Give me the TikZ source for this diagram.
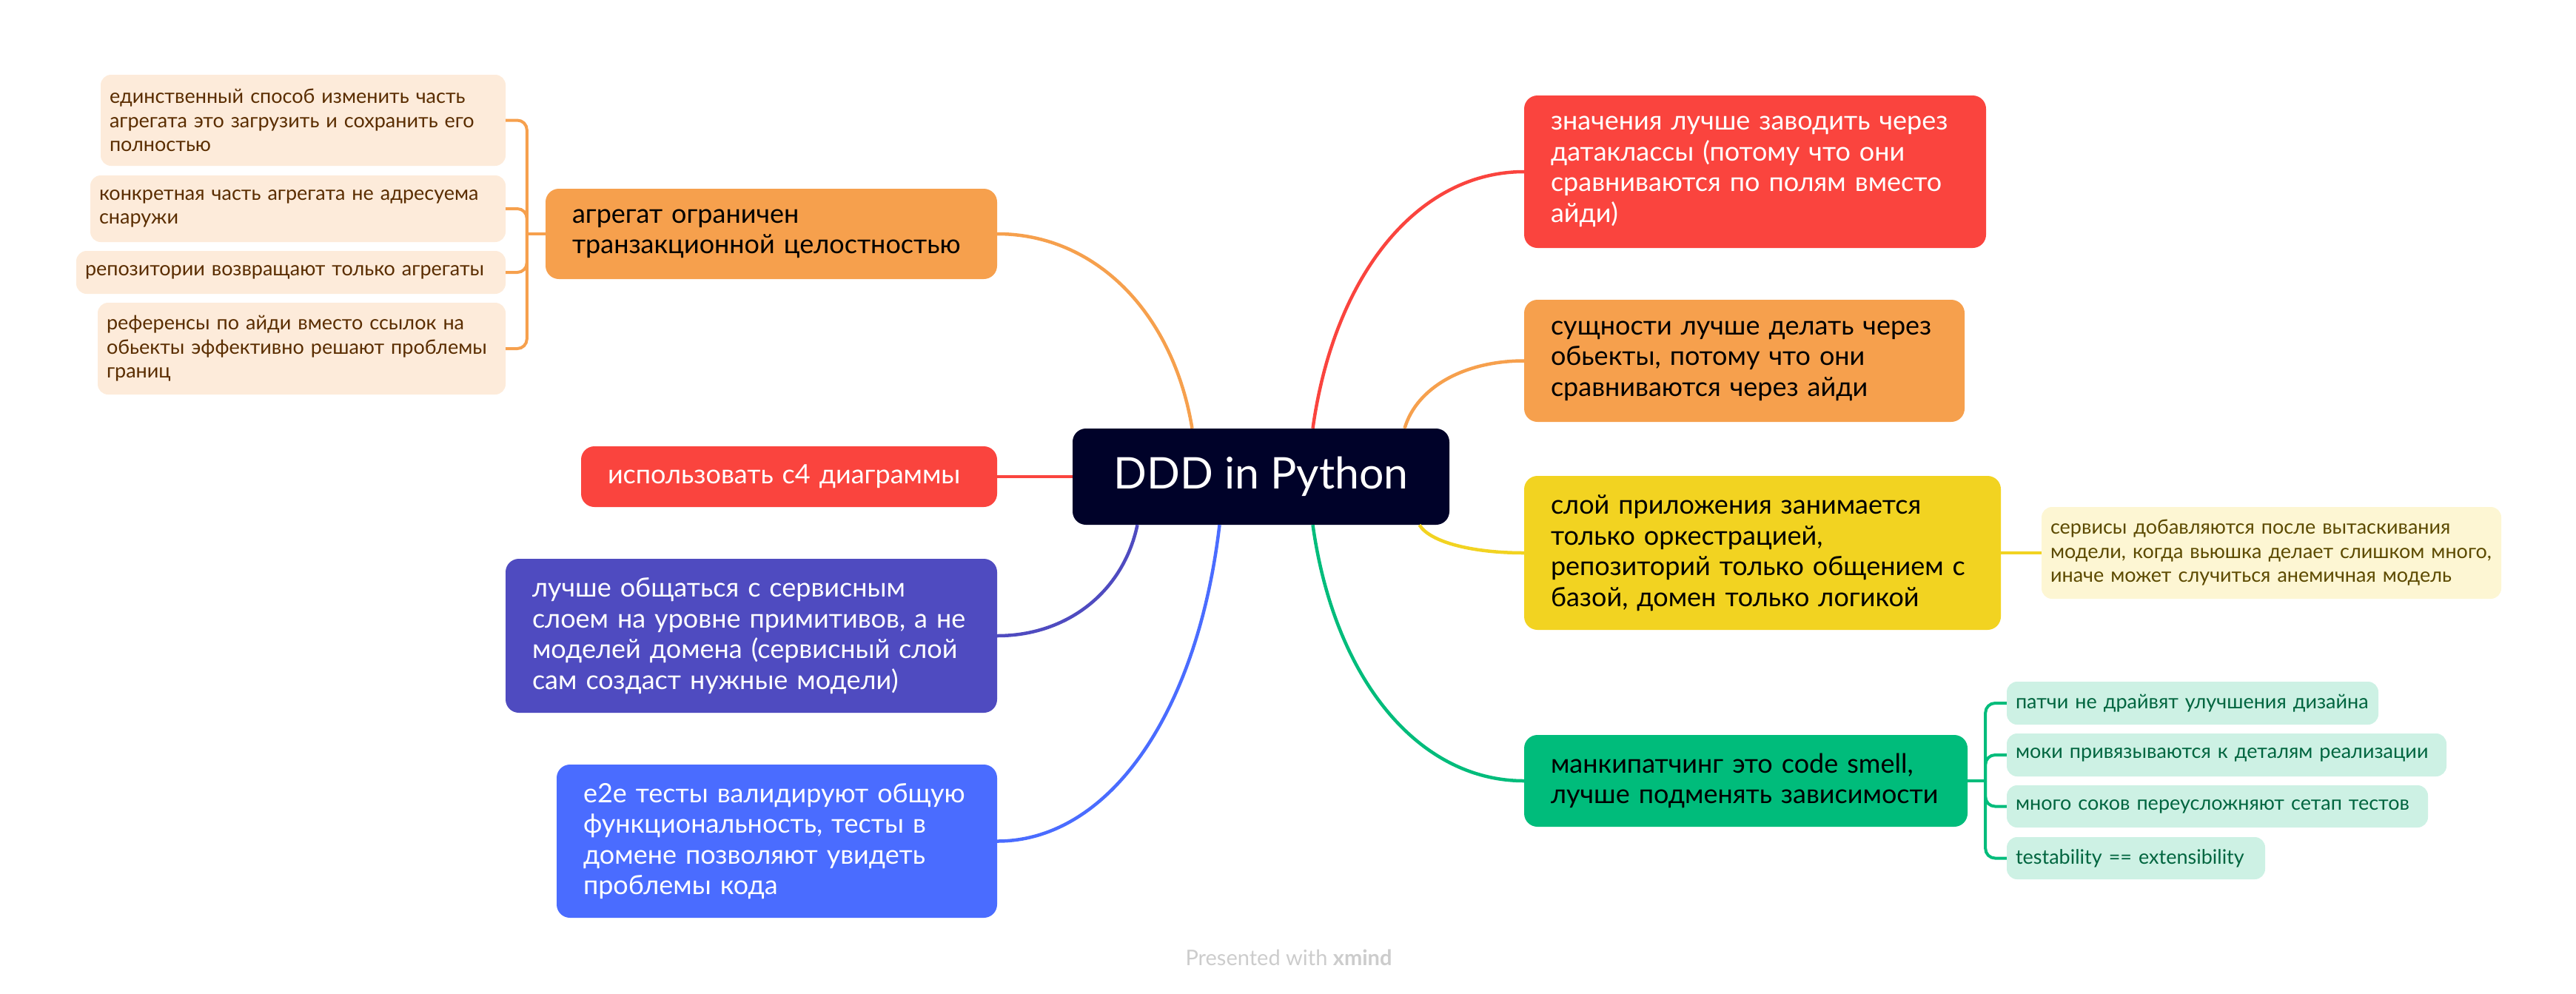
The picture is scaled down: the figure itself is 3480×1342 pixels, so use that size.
\documentclass[tikz,border=0pt]{standalone}
\usepackage{fontspec}
\setmainfont{Lato}
\usepackage{xcolor}
\usetikzlibrary{positioning}

\definecolor{rootfill}{HTML}{000229}
\definecolor{topicred}{HTML}{FA443E}
\definecolor{topicorange}{HTML}{F6A04D}
\definecolor{topicyellow}{HTML}{F2D321}
\definecolor{topicgreen}{HTML}{00BC7B}
\definecolor{topicpurple}{HTML}{4F4BC0}
\definecolor{topicblue}{HTML}{4A6CFF}
\definecolor{noteorange}{HTML}{FDEBDA}
\definecolor{noteorangetext}{HTML}{5A2D00}
\definecolor{noteyellow}{HTML}{FDF6D3}
\definecolor{noteyellowtext}{HTML}{5C4A00}
\definecolor{notegreen}{HTML}{CDF1E4}
\definecolor{notegreentext}{HTML}{00653F}
\definecolor{creditgray}{HTML}{CCCCCC}

\begin{document}
\begin{tikzpicture}[x=1pt, y=-1pt,
    topic/.style={rounded corners=18pt, align=left, inner xsep=36pt, inner ysep=0pt, font=\fontsize{36}{41.5}\selectfont},
    note/.style={rounded corners=14pt, align=left, inner xsep=12pt, inner ysep=0pt, font=\fontsize{27}{32.5}\selectfont},
    link/.style={line width=4.5pt},
    branch/.style={line width=4pt, rounded corners=13pt}]
    \useasboundingbox (0,0) rectangle (3480,1342);

    % central topic
    \node[fill=rootfill, text=white, rounded corners=18pt, minimum width=509pt, minimum height=130pt, font=\fontsize{59}{70}\selectfont] (root) at (1703.5,644) {DDD in Python};

    % left topics
    \node[topic, fill=topicorange, text width=538pt, minimum height=122pt] (agg) at (1042,316) {агрегат ограничен\\транзакционной целостностью};
    \node[topic, fill=topicred, text=white, text width=490pt, minimum height=82pt] (cfour) at (1066,644) {использовать c4 диаграммы};
    \node[topic, fill=topicpurple, text=white, text width=592pt, minimum height=208pt] (prim) at (1015,859) {лучше общаться с сервисным\\слоем на уровне примитивов, а не\\моделей домена (сервисный слой\\сам создаст нужные модели)};
    \node[topic, fill=topicblue, text=white, text width=523pt, minimum height=207pt] (etoe) at (1049.5,1136.5) {e2e тесты валидируют общую\\функциональность, тесты в\\домене позволяют увидеть\\проблемы кода};

    % right topics
    \node[topic, fill=topicred, text=white, text width=552pt, minimum height=206pt] (vals) at (2371,232) {значения лучше заводить через\\датаклассы (потому что они\\сравниваются по полям вместо\\айди)};
    \node[topic, fill=topicorange, text width=523pt, minimum height=165pt] (ents) at (2356.5,487.5) {сущности лучше делать через\\обьекты, потому что они\\сравниваются через айди};
    \node[topic, fill=topicyellow, text width=572pt, minimum height=208pt] (layers) at (2381,747) {слой приложения занимается\\только оркестрацией,\\репозиторий только общением с\\базой, домен только логикой};
    \node[topic, fill=topicgreen, text width=527pt, minimum height=124pt] (mock) at (2358.5,1055) {манкипатчинг это code smell,\\лучше подменять зависимости};

    % subtopics
    \node[note, fill=noteorange, text=noteorangetext, text width=523pt, minimum height=123pt] (aggone) at (409.5,162.5) {единственный способ изменить часть\\агрегата это загрузить и сохранить его\\полностью};
    \node[note, fill=noteorange, text=noteorangetext, text width=537pt, minimum height=90pt] (aggtwo) at (402.5,282) {конкретная часть агрегата не адресуема\\снаружи};
    \node[note, fill=noteorange, text=noteorangetext, text width=556pt, minimum height=58pt] (aggthree) at (393,368) {репозитории возвращают только агрегаты};
    \node[note, fill=noteorange, text=noteorangetext, text width=527pt, minimum height=124pt] (aggfour) at (407.5,471) {референсы по айди вместо ссылок на\\обьекты эффективно решают проблемы\\границ};
    \node[note, fill=noteyellow, text=noteyellowtext, text width=597pt, minimum height=124pt] (layerone) at (3068.5,747) {сервисы добавляются после вытаскивания\\модели, когда вьюшка делает слишком много,\\иначе может случиться анемичная модель};
    \node[note, fill=notegreen, text=notegreentext, text width=478pt, minimum height=58pt] (mockone) at (2962,950) {патчи не драйвят улучшения дизайна};
    \node[note, fill=notegreen, text=notegreentext, text width=570pt, minimum height=58pt] (mocktwo) at (3008,1020) {моки привязываются к деталям реализации};
    \node[note, fill=notegreen, text=notegreentext, text width=545pt, minimum height=57pt] (mockthree) at (2995.5,1089.5) {много соков переусложняют сетап тестов};
    \node[note, fill=notegreen, text=notegreentext, text width=325pt, minimum height=57pt] (mockfour) at (2885.5,1159.5) {testability == extensibility};

    % curved links from the central topic
    \draw[link, topicorange] ([xshift=-93pt]root.north) .. controls +(-26,-157) and +(132,0) .. (agg.east);
    \draw[link, topicred] ([xshift=70pt]root.north) .. controls +(29,-208) and +(-143,0) .. (vals.west);
    \draw[link, topicorange] ([xshift=194pt]root.north) .. controls +(16,-55) and +(-81,0) .. (ents.west);
    \draw[link, topicyellow] ([xshift=214pt]root.south) .. controls +(14,23) and +(-71,0) .. (layers.west);
    \draw[link, topicgreen] ([xshift=70pt]root.south) .. controls +(29,208) and +(-143,0) .. (mock.west);
    \draw[link, topicpurple] ([xshift=-167pt]root.south) .. controls +(-19,90) and +(95,0) .. (prim.east);
    \draw[link, topicblue] ([xshift=-56pt]root.south) .. controls +(-30,256) and +(150,0) .. (etoe.east);
    \draw[link, topicred] (root.west) -- (cfour.east);

    % brackets to subtopics
    \coordinate (aggspine) at ([xshift=-25pt]agg.west);
    \draw[branch, topicorange] (agg.west) -- (aggspine);
    \foreach \n in {aggone,aggtwo,aggthree,aggfour}
        \draw[branch, topicorange] (aggspine) |- (\n.east);
    \coordinate (mockspine) at ([xshift=24pt]mock.east);
    \draw[branch, topicgreen] (mock.east) -- (mockspine);
    \foreach \n in {mockone,mocktwo,mockthree,mockfour}
        \draw[branch, topicgreen] (mockspine) |- (\n.west);
    \draw[branch, topicyellow] (layers.east) -- (layerone.west);

    % footer
    \node[text=creditgray, font=\fontsize{29}{30}\selectfont] (credit) at (1741,1294) {Presented with \textbf{xmind}};
\end{tikzpicture}
\end{document}
